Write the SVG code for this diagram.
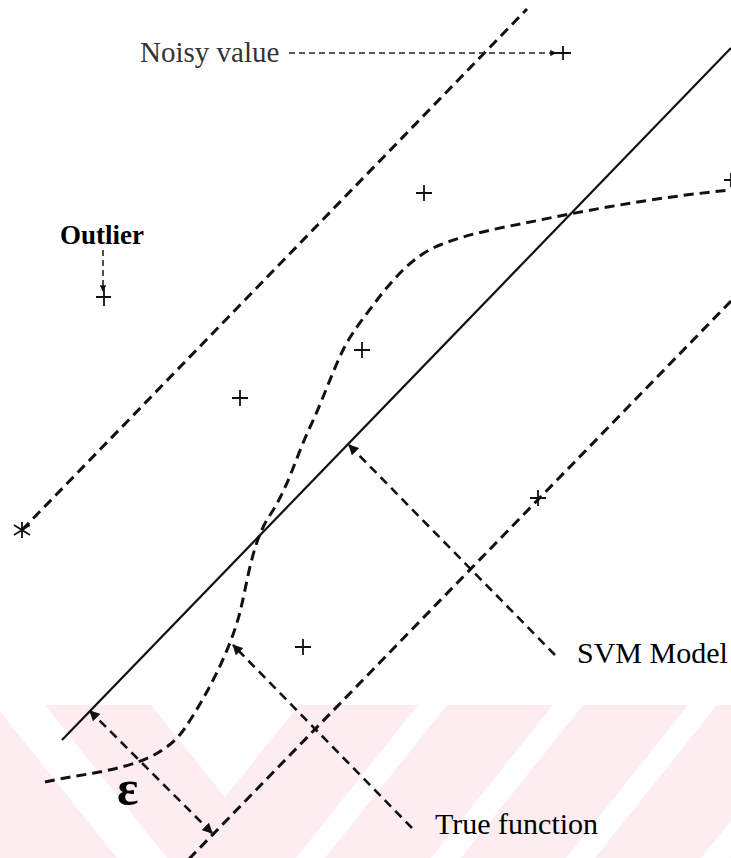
<svg xmlns="http://www.w3.org/2000/svg" width="731" height="858" viewBox="0 0 731 858">
<style>
.dash{fill:none;stroke:#111;stroke-width:3;stroke-dasharray:10 6;stroke-linecap:butt}
.ptr{fill:none;stroke:#111;stroke-width:2.6;stroke-dasharray:9 6}
.thin{fill:none;stroke:#222;stroke-width:1.6;stroke-dasharray:6 4}
.solid{fill:none;stroke:#111;stroke-width:2.2}
.mk{fill:none;stroke:#111;stroke-width:1.8}
.wm{fill:#fff}
</style>
<defs>
<marker id="ah" viewBox="0 0 10 10" refX="9" refY="5" markerWidth="4" markerHeight="4" orient="auto-start-reverse" markerUnits="strokeWidth">
<path d="M0,0 L10,5 L0,10 z" fill="#111"/>
</marker>
</defs>
<rect width="731" height="858" fill="#fff"/>
<g id="watermark">
<rect x="0" y="705" width="731" height="153" fill="#fdedf0"/>
<polygon class="wm" points="-5,705 45,705 167,858 117,858"/>
<polygon class="wm" points="151,705 299,705 225,797"/>
<polygon class="wm" points="418,705 447,705 325,858 296,858"/>
<polygon class="wm" points="553,705 583,705 461,858 431,858"/>
<polygon class="wm" points="688,705 717,705 595,858 566,858"/>
<polygon class="wm" points="823,705 852,705 730,858 701,858"/>
</g>
<g id="connectors">
<line id="svm-model" class="solid" x1="62" y1="740" x2="731" y2="48"/>
<line id="upper-bound" class="dash" x1="22" y1="530" x2="527" y2="9"/>
<line id="lower-bound" class="dash" x1="731" y1="301" x2="188" y2="860"/>
<path id="true-function" class="dash" d="M45,782 C94,771 157,770 185,728 C207,695 230,651 240,612 C248,580 252,542 270,515 C288,488 296,457 310,427 C322,402 331,375 343,350 C352,332 365,316 377,300 C394,278 414,255 440,245 C472,232 507,227 540,220 C603,207 668,196 731,190"/>
<line id="eps-dim" class="ptr" x1="212" y1="833" x2="90" y2="711" marker-start="url(#ah)" marker-end="url(#ah)"/>
<line id="svm-ptr" class="ptr" x1="555" y1="655" x2="349" y2="445" marker-end="url(#ah)"/>
<line id="tf-ptr" class="ptr" x1="412" y1="828" x2="233" y2="645" marker-end="url(#ah)"/>
<line id="noisy-ptr" class="thin" x1="289" y1="53" x2="556" y2="53" marker-end="url(#ah)"/>
<line id="outlier-ptr" class="thin" x1="103" y1="250" x2="103" y2="291" marker-end="url(#ah)"/>
</g>
<g id="points">
<path class="mk" d="M555,53 h16 M563,46 v14"/>
<path class="mk" d="M96,297 h15 M104,287 v19"/>
<path class="mk" d="M416,193 h16 M424,185 v16"/>
<path class="mk" d="M354,350 h16 M362,342 v16"/>
<path class="mk" d="M232,398 h16 M240,390 v16"/>
<path class="mk" d="M295,647 h16 M303,639 v16"/>
<path class="mk" d="M530,498 h16 M538,490 v16"/>
<path class="mk" d="M724,180 h10 M731,173 v14"/>
<path class="mk" d="M14,525 L30,535 M14,535 L30,525 M22,522 V538"/>
</g>
<g id="label-noisy"><text x="140" y="62" font-family="'Times New Roman', 'Liberation Serif', serif" font-size="29" fill="#333">Noisy value</text></g>
<g id="label-outlier"><text x="60" y="244" font-family="'Times New Roman', 'Liberation Serif', serif" font-size="27" font-weight="bold">Outlier</text></g>
<g id="label-svm"><text x="577" y="663" font-family="'Times New Roman', 'Liberation Serif', serif" font-size="30">SVM Model</text></g>
<g id="label-true"><text x="435" y="834" font-family="'Times New Roman', 'Liberation Serif', serif" font-size="30">True function</text></g>
<g id="label-eps"><text x="117" y="805" font-family="'Times New Roman', 'Liberation Serif', serif" font-size="50" font-weight="bold">ε</text></g>
</svg>
